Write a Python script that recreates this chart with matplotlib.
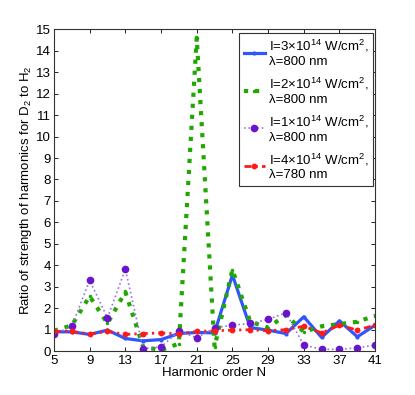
import matplotlib
matplotlib.use("Agg")
import matplotlib.pyplot as plt
import numpy as np

plt.rcParams['font.family'] = ['Liberation Sans', 'DejaVu Sans']
plt.rcParams['mathtext.fontset'] = 'custom'
plt.rcParams['mathtext.rm'] = 'Liberation Sans'
plt.rcParams['font.size'] = 9.5

# harmonic orders
N = np.arange(5, 42, 2)

# ratio D2/H2 for each laser condition
i3_800 = [0.9, 0.9, 0.78, 0.98, 0.59, 0.48, 0.54, 0.82, 0.87, 0.85,
          3.55, 1.1, 0.98, 0.82, 1.6, 0.64, 1.41, 0.67, 1.21]
i2_800 = [0.95, 1.2, 2.56, 1.29, 2.76, 0.2, 0.05, 0.35, 14.6, 0.2,
          3.8, 1.37, 1.1, 1.68, 0.9, 1.16, 1.26, 1.37, 1.65]
i1_800 = [0.79, 1.16, 3.3, 1.55, 3.82, 0.12, 0.2, 0.93, 0.62, 1.09,
          1.21, 1.29, 1.48, 1.79, 0.28, 0.09, 0.08, 0.16, 0.28]
i4_780 = [0.92, 0.92, 0.8, 0.92, 0.78, 0.82, 0.85, 0.8, 0.92, 0.95,
          0.98, 1.0, 0.95, 1.0, 1.16, 0.85, 1.21, 0.98, 1.21]

labels = [r"I=3$\times$10$^{14}$ W/cm$^2$," + "\n" + "λ=800 nm",
          r"I=2$\times$10$^{14}$ W/cm$^2$," + "\n" + "λ=800 nm",
          r"I=1$\times$10$^{14}$ W/cm$^2$," + "\n" + "λ=800 nm",
          r"I=4$\times$10$^{14}$ W/cm$^2$," + "\n" + "λ=780 nm"]

fig = plt.figure(figsize=(4.15, 3.95), dpi=100)
ax = fig.add_axes([0.130, 0.111, 0.774, 0.815])

ax.plot(N, i3_800, '-', color='#2f55ff', lw=2.3, marker='.', ms=4, label=labels[0])
ax.plot(N, i2_800, ':', color='#1fa800', lw=3.0, marker='.', ms=3, label=labels[1])
ax.plot(N, i1_800, ':', color='#9a70e8', lw=1.2, marker='o', ms=4.5,
        mfc='#6a14d0', mec='#6a14d0', label=labels[2])
ax.plot(N, i4_780, '-.', color='#ff1a1a', lw=2.0, marker='o', ms=3.2,
        mfc='#ff1a1a', mec='#ff1a1a', dashes=(2.5, 1.5, 0.8, 1.5), label=labels[3])

ax.set_xlim(5, 41)
ax.set_ylim(0, 15)
ax.set_xticks(np.arange(5, 42, 4))
ax.set_yticks(np.arange(0, 16, 1))
ax.tick_params(direction='in', top=True, right=True, length=3, width=0.6)
ax.tick_params(axis='x', pad=3)
ax.tick_params(axis='y', pad=2)
for s in ax.spines.values():
    s.set_linewidth(0.8)
    s.set_color('#333333')

ax.set_xlabel("Harmonic order N", labelpad=0)
ax.set_ylabel(r"Ratio of strength of harmonics for D$_2$ to H$_2$", labelpad=2)

leg = ax.legend(loc='upper right', bbox_to_anchor=(0.994, 0.988), handlelength=1.6,
                handletextpad=0.3, borderpad=0.35, labelspacing=0.6, numpoints=1,
                fancybox=False, framealpha=1, edgecolor='#333333', borderaxespad=0)
leg.get_frame().set_linewidth(0.8)

fig.savefig("out.png", dpi=100)
